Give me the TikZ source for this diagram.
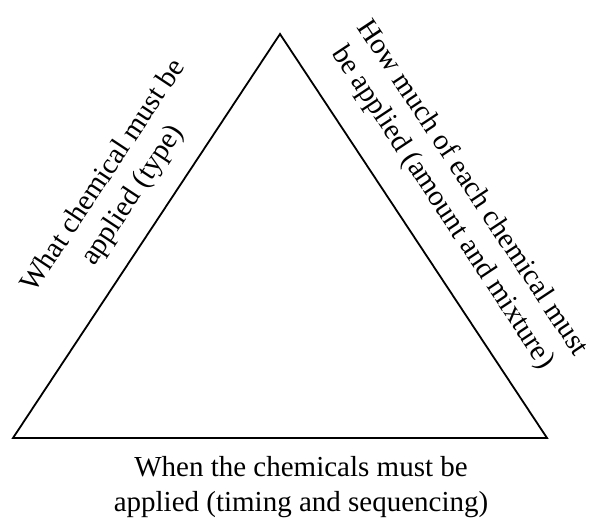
\documentclass[tikz,border=0pt]{standalone}
\usepackage{fontspec}
\setmainfont{Liberation Serif}
\begin{document}
\begin{tikzpicture}[x=1pt,y=-1pt,
  edge/.style={line width=1.8pt, line join=miter},
  lbl/.style={align=center, inner sep=0pt, font=\fontsize{29}{35}\selectfont}]
\useasboundingbox (0,0) rectangle (594,526);
\coordinate (apex) at (280,34);
\coordinate (bl) at (13,438);
\coordinate (br) at (547,438);
\draw[edge] (apex) -- (bl) -- (br) -- cycle;
\node[lbl, rotate=56.5] (type) at (119,186) {What chemical must be\\applied (type)};
\node[lbl, rotate=-56.5] (amount) at (457,198) {How much of each chemical must\\be applied (amount and mixture)};
\node[lbl] (timing) at (301,487) {When the chemicals must be\\applied (timing and sequencing)};
\end{tikzpicture}
\end{document}
